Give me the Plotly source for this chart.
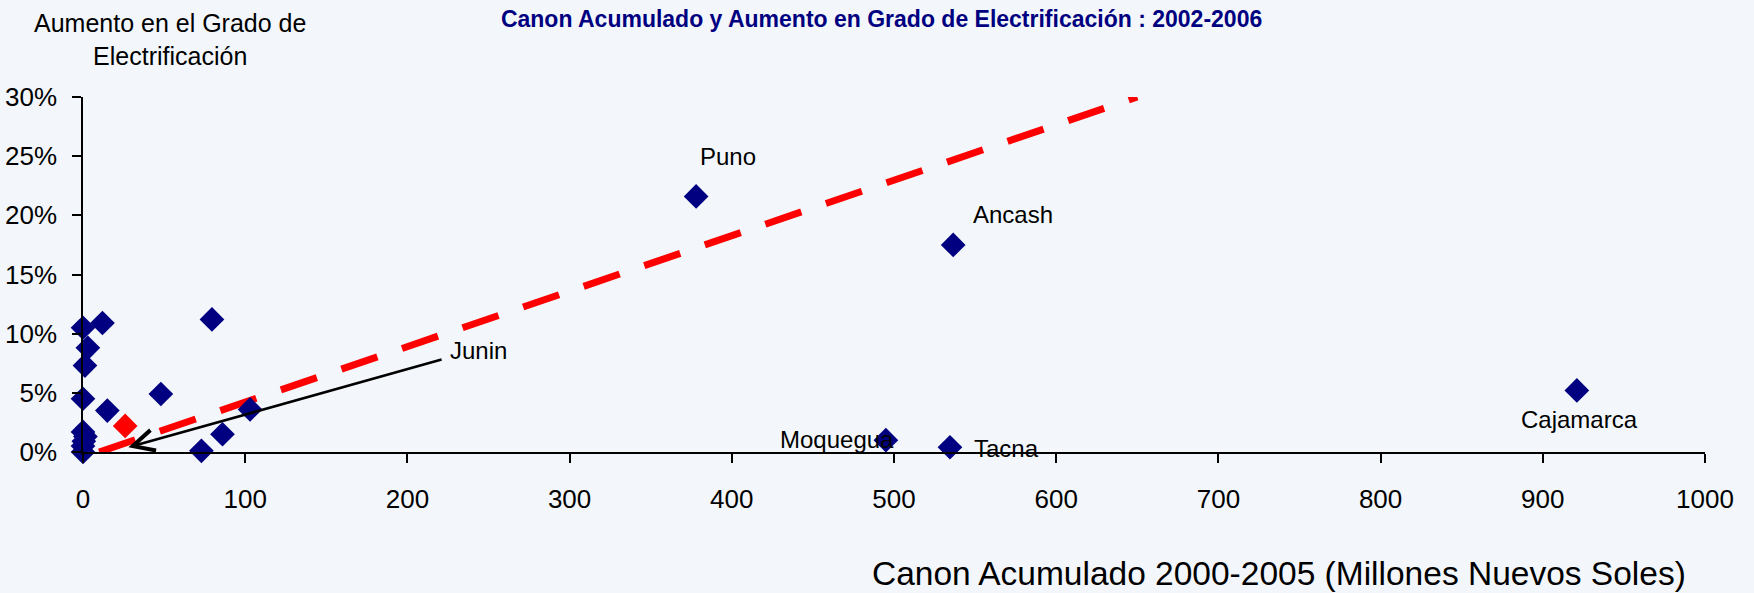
import plotly.graph_objects as go

# ---- data ----
canon = [0, 12, 3, 1.2, 0, 15, 48, 79.5, 0, 1.5, 0.5, 0, 0, 73, 86, 103,
         378, 536.5, 495, 534.5, 921]
aumento = [0.105, 0.109, 0.088, 0.073, 0.045, 0.035, 0.049, 0.112, 0.017, 0.013,
           0.009, 0.005, 0.0, 0.001, 0.015, 0.036,
           0.216, 0.175, 0.010, 0.004, 0.052]
region = ["", "", "", "", "", "", "", "", "", "", "", "", "", "", "", "",
          "Puno", "Ancash", "Moquegua", "Tacna", "Cajamarca"]

highlight_x = [26]
highlight_y = [0.022]

trend_x = [10, 650]
trend_y = [0.0, 0.30]

junin_label = "Junin"
junin_tail = (222, 0.0785)
junin_head = (28, 0.004)

x_ticks = [0, 100, 200, 300, 400, 500, 600, 700, 800, 900, 1000]
y_ticks = [0, 0.05, 0.10, 0.15, 0.20, 0.25, 0.30]

title_text = "Canon Acumulado y Aumento en Grado de Electrificación : 2002-2006"
y_title = "Aumento en el Grado de<br>Electrificación"
x_title = "Canon Acumulado 2000-2005 (Millones Nuevos Soles)"

# label placement (style): xanchor, xshift, yshift
label_style = {
    "Puno": ("center", 32, 40),
    "Ancash": ("left", 18, 30),
    "Moquegua": ("right", 10, 1),
    "Tacna": ("left", 22, -1),
    "Cajamarca": ("center", 3, -29),
}

BG = "#F3F7FB"
FONT = "Arial, Liberation Sans, sans-serif"

fig = go.Figure()

fig.add_trace(go.Scatter(
    x=trend_x, y=trend_y, mode="lines",
    line=dict(color="#FF0000", width=7, dash="38px,26px"),
    hoverinfo="skip", cliponaxis=False))

fig.add_trace(go.Scatter(
    x=canon, y=aumento, mode="markers",
    marker=dict(symbol="diamond", size=19, color="#000080", line=dict(width=0)),
    cliponaxis=False))

fig.add_trace(go.Scatter(
    x=highlight_x, y=highlight_y, mode="markers",
    marker=dict(symbol="diamond", size=19, color="#FF0000", line=dict(width=0)),
    cliponaxis=False))

annotations = []
for xv, yv, name in zip(canon, aumento, region):
    if not name:
        continue
    xa, xs, ys = label_style[name]
    annotations.append(dict(
        x=xv, y=yv, xref="x", yref="y", text=name, showarrow=False,
        xanchor=xa, yanchor="middle", xshift=xs, yshift=ys,
        font=dict(family=FONT, size=24, color="#000000")))

# Junin arrow
annotations.append(dict(
    x=junin_head[0], y=junin_head[1], xref="x", yref="y",
    ax=junin_tail[0], ay=junin_tail[1], axref="x", ayref="y",
    text="", showarrow=True, arrowhead=5, arrowsize=1.6, arrowwidth=2.6,
    arrowcolor="#000000", standoff=0))
annotations.append(dict(
    x=junin_tail[0], y=junin_tail[1], xref="x", yref="y", text=junin_label,
    showarrow=False, xanchor="left", yanchor="middle", xshift=5, yshift=9,
    font=dict(family=FONT, size=24, color="#000000")))

# axis titles
annotations.append(dict(
    x=0.0536, y=1.163, xref="paper", yref="paper", text=y_title,
    showarrow=False, xanchor="center", yanchor="middle", align="center",
    font=dict(family=FONT, size=25, color="#000000")))
annotations.append(dict(
    x=0.9895, y=-0.343, xref="paper", yref="paper", text=x_title,
    showarrow=False, xanchor="right", yanchor="middle",
    font=dict(family=FONT, size=33.5, color="#000000")))

fig.update_layout(
    width=1754, height=593,
    paper_bgcolor=BG, plot_bgcolor=BG,
    margin=dict(l=83, r=49, t=97, b=141),
    showlegend=False,
    title=dict(text=title_text, x=0.5026, y=0.968, xref="container", yref="container",
               xanchor="center", yanchor="middle",
               font=dict(family=FONT, size=23, color="#000080", weight="bold")),
    annotations=annotations,
    xaxis=dict(range=[0, 1000], tickvals=x_ticks, showgrid=False, zeroline=False,
               automargin=False,
               showline=True, linecolor="#000000", linewidth=1.5,
               ticks="outside", ticklen=9, tickwidth=1.5, tickcolor="#000000",
               ticklabelstandoff=14,
               tickfont=dict(family=FONT, size=26, color="#000000")),
    yaxis=dict(range=[0, 0.30], tickvals=y_ticks, tickformat=".0%", showgrid=False,
               automargin=False,
               zeroline=False, showline=True, linecolor="#000000", linewidth=1.5,
               ticks="outside", ticklen=9, tickwidth=1.5, tickcolor="#000000",
               ticklabelstandoff=10,
               tickfont=dict(family=FONT, size=26, color="#000000")),
)

fig.write_html(
    "out.html",
    config={"displayModeBar": False},
    post_script="document.body.style.margin='0px';document.body.style.background='%s';"
                "document.body.style.overflow='hidden';" % BG,
)
